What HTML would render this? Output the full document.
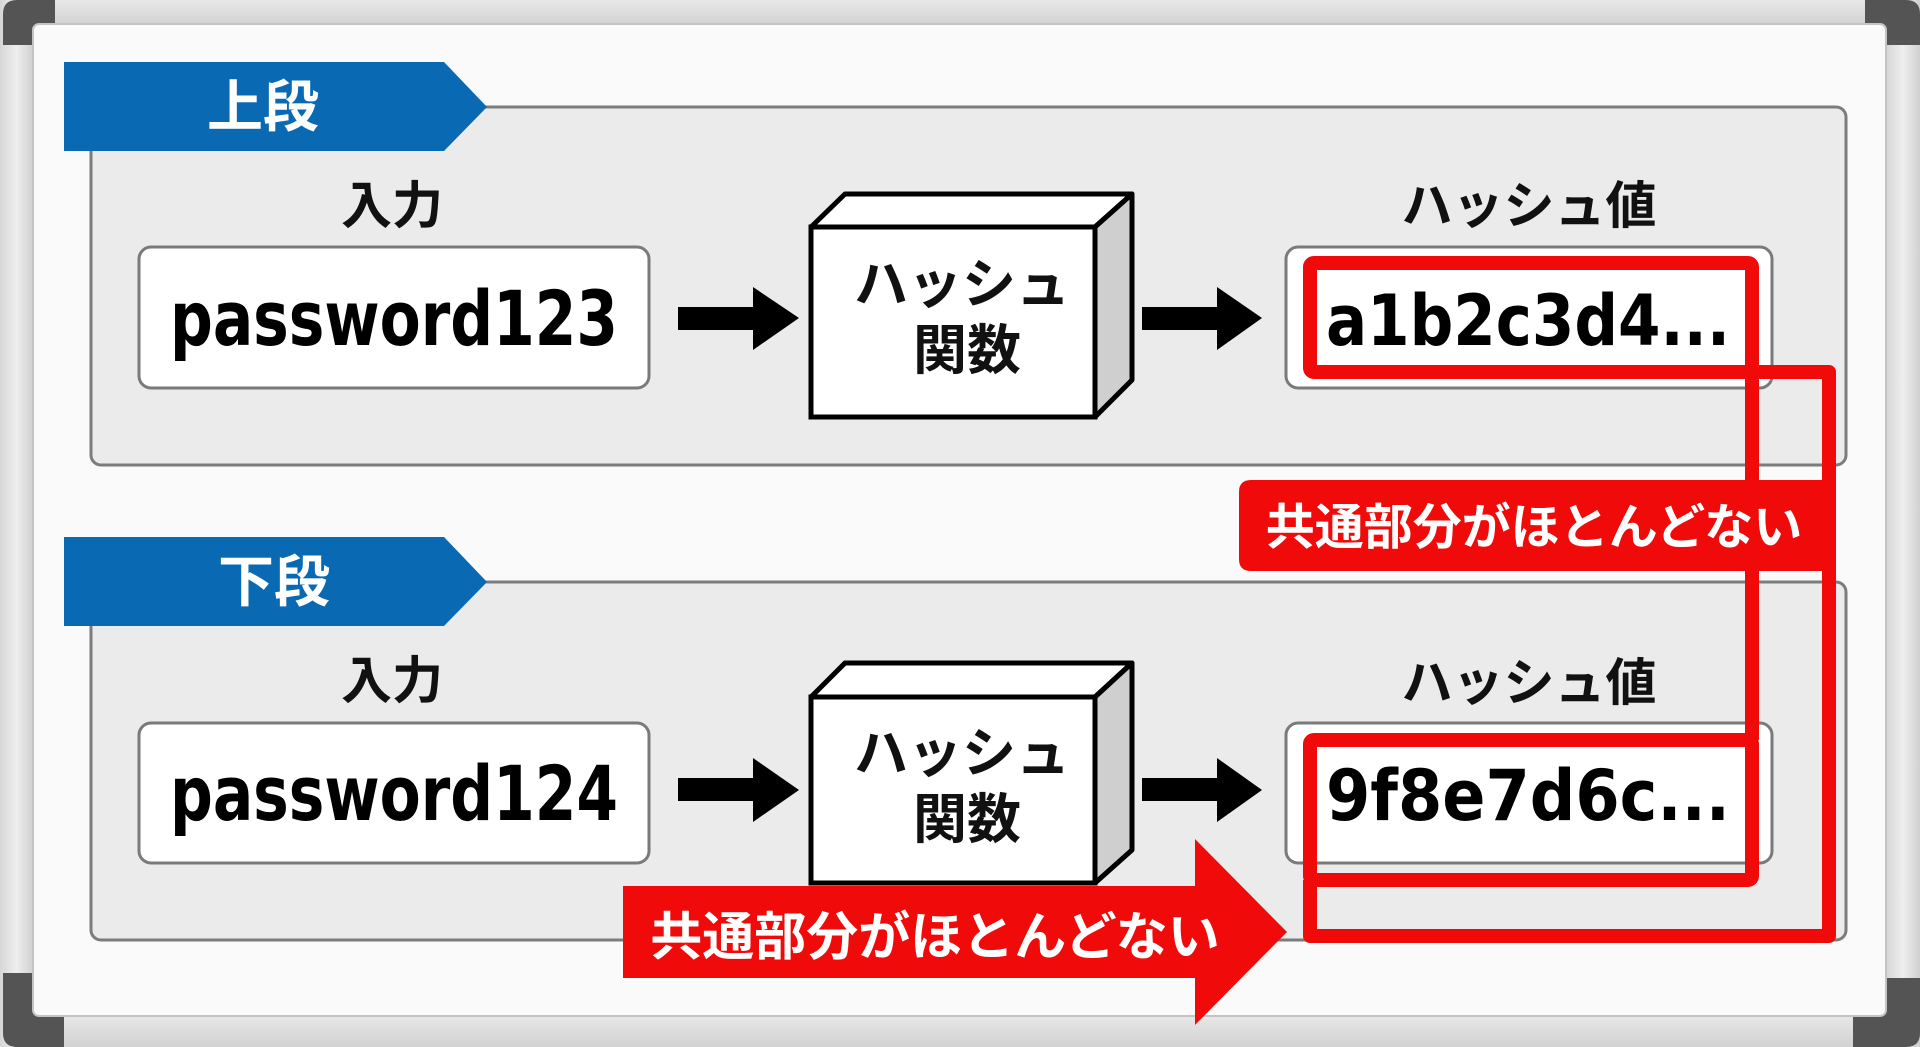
<!DOCTYPE html>
<html><head><meta charset="utf-8"><style>
html,body{margin:0;padding:0;width:1920px;height:1047px;overflow:hidden;background:#dedede;}
svg{display:block;}
.jp{font-family:"Liberation Sans","Noto Sans CJK JP",sans-serif;font-weight:700;}
.mono{font-family:"DejaVu Sans Condensed","DejaVu Sans","Liberation Sans",sans-serif;font-weight:700;}
</style></head><body>
<svg width="1920" height="1047" viewBox="0 0 1920 1047" xmlns="http://www.w3.org/2000/svg">
  <defs>
    <linearGradient id="fr" x1="0" y1="0" x2="1" y2="0">
      <stop offset="0" stop-color="#d6d6d6"/><stop offset="0.5" stop-color="#eeeeee"/><stop offset="1" stop-color="#d0d0d0"/>
    </linearGradient>
    <linearGradient id="frv" x1="0" y1="0" x2="0" y2="1">
      <stop offset="0" stop-color="#e8e8e8"/><stop offset="1" stop-color="#d2d2d2"/>
    </linearGradient>
  </defs>
  <!-- frame -->
  <rect x="0" y="0" width="1920" height="1047" fill="#dcdcdc"/>
  <rect x="0" y="0" width="1920" height="25" fill="url(#frv)"/>
  <rect x="0" y="1015" width="1920" height="32" fill="url(#frv)"/>
  <rect x="0" y="0" width="33" height="1047" fill="url(#fr)"/>
  <rect x="1886" y="0" width="34" height="1047" fill="url(#fr)"/>
  <!-- dark corners -->
  <path d="M3,45 L3,14 Q3,0 17,0 L55,0 L55,45 Z" fill="#545454"/>
  <path d="M1865,0 L1906,0 Q1920,0 1920,14 L1920,45 L1865,45 Z" fill="#545454"/>
  <path d="M3,973 L64,973 L64,1047 L17,1047 Q3,1047 3,1033 Z" fill="#545454"/>
  <path d="M1853,978 L1920,978 L1920,1033 Q1920,1047 1906,1047 L1853,1047 Z" fill="#545454"/>
  <!-- board -->
  <rect x="33" y="24" width="1853" height="992" rx="6" fill="#fafafa" stroke="#c4c4c4" stroke-width="2"/>

  <!-- panels -->
  <rect x="91" y="107" width="1755" height="358" rx="10" fill="#ebebeb" stroke="#7c7c7c" stroke-width="3"/>
  <rect x="91" y="582" width="1755" height="358" rx="10" fill="#ebebeb" stroke="#7c7c7c" stroke-width="3"/>

  <!-- tabs -->
  <polygon points="64,62 444,62 487,107 444,151 64,151" fill="#0a69b3"/>
  <text x="263" y="107" class="jp" font-size="56" fill="#ffffff" text-anchor="middle" dominant-baseline="central">上段</text>
  <polygon points="64,537 444,537 487,582 444,626 64,626" fill="#0a69b3"/>
  <text x="274" y="582" class="jp" font-size="56" fill="#ffffff" text-anchor="middle" dominant-baseline="central">下段</text>

  <!-- top row -->
  <text x="392" y="206" class="jp" font-size="51" fill="#111" text-anchor="middle" dominant-baseline="central">入力</text>
  <rect x="139" y="247" width="510" height="141" rx="12" fill="#ffffff" stroke="#7a7a7a" stroke-width="3"/>
  <text x="170" y="345" class="mono" font-size="76" fill="#000" textLength="448" lengthAdjust="spacingAndGlyphs">password123</text>

  <rect x="678" y="307" width="77" height="23" fill="#000"/>
  <polygon points="753,287 799,318 753,350" fill="#000"/>

  <!-- cube top -->
  <polygon points="811,227 845,194 1132,194 1095,227" fill="#ffffff" stroke="#000" stroke-width="5" stroke-linejoin="round"/>
  <polygon points="1095,227 1132,194 1132,380 1095,417" fill="#cfcfcf" stroke="#000" stroke-width="5" stroke-linejoin="round"/>
  <rect x="811" y="227" width="284" height="190" fill="#ffffff" stroke="#000" stroke-width="5"/>
  <text x="962" y="285" class="jp" font-size="54" fill="#111" text-anchor="middle" dominant-baseline="central">ハッシュ</text>
  <text x="967" y="351" class="jp" font-size="54" fill="#111" text-anchor="middle" dominant-baseline="central">関数</text>

  <rect x="1142" y="307" width="77" height="23" fill="#000"/>
  <polygon points="1217,287 1262,318 1217,350" fill="#000"/>

  <text x="1529" y="206" class="jp" font-size="51" fill="#111" text-anchor="middle" dominant-baseline="central">ハッシュ値</text>
  <rect x="1286" y="247" width="486" height="141" rx="12" fill="#ffffff" stroke="#7a7a7a" stroke-width="3"/>

  <!-- bottom row -->
  <text x="392" y="681" class="jp" font-size="51" fill="#111" text-anchor="middle" dominant-baseline="central">入力</text>
  <rect x="139" y="723" width="510" height="140" rx="12" fill="#ffffff" stroke="#7a7a7a" stroke-width="3"/>
  <text x="170" y="820" class="mono" font-size="76" fill="#000" textLength="448" lengthAdjust="spacingAndGlyphs">password124</text>

  <rect x="678" y="778" width="77" height="23" fill="#000"/>
  <polygon points="753,758 799,790 753,822" fill="#000"/>

  <polygon points="811,697 845,663 1132,663 1095,697" fill="#ffffff" stroke="#000" stroke-width="5" stroke-linejoin="round"/>
  <polygon points="1095,697 1132,663 1132,850 1095,883" fill="#cfcfcf" stroke="#000" stroke-width="5" stroke-linejoin="round"/>
  <rect x="811" y="697" width="284" height="186" fill="#ffffff" stroke="#000" stroke-width="5"/>
  <text x="962" y="754" class="jp" font-size="54" fill="#111" text-anchor="middle" dominant-baseline="central">ハッシュ</text>
  <text x="967" y="820" class="jp" font-size="54" fill="#111" text-anchor="middle" dominant-baseline="central">関数</text>

  <rect x="1142" y="778" width="77" height="23" fill="#000"/>
  <polygon points="1217,758 1262,790 1217,822" fill="#000"/>

  <text x="1529" y="683" class="jp" font-size="51" fill="#111" text-anchor="middle" dominant-baseline="central">ハッシュ値</text>
  <rect x="1286" y="723" width="486" height="140" rx="12" fill="#ffffff" stroke="#7a7a7a" stroke-width="3"/>

  <!-- red highlight boxes & connectors -->
  <rect x="1310" y="263" width="442" height="109" rx="4" fill="none" stroke="#f00a0a" stroke-width="14"/>
  <rect x="1310" y="740" width="442" height="140" rx="4" fill="none" stroke="#f00a0a" stroke-width="14"/>
  <path d="M1752,372 L1829,372 L1829,936 L1310,936 L1310,880" fill="none" stroke="#f00a0a" stroke-width="14" stroke-linejoin="round"/>
  <path d="M1752,372 L1752,740" fill="none" stroke="#f00a0a" stroke-width="14"/>

  <!-- hash texts -->
  <text x="1326" y="345" class="mono" font-size="70" fill="#000" textLength="404" lengthAdjust="spacingAndGlyphs">a1b2c3d4...</text>
  <text x="1326" y="820" class="mono" font-size="70" fill="#000" textLength="404" lengthAdjust="spacingAndGlyphs">9f8e7d6c...</text>

  <!-- red label -->
  <path d="M1251,480 L1836,480 L1836,571 L1251,571 Q1239,571 1239,559 L1239,492 Q1239,480 1251,480 Z" fill="#f00a0a"/>
  <text x="1534" y="528" class="jp" font-size="49" fill="#ffffff" text-anchor="middle" dominant-baseline="central">共通部分がほとんどない</text>

  <!-- big red arrow -->
  <polygon points="623,886 1195,886 1195,839 1287,932 1195,1025 1195,978 623,978" fill="#f00a0a"/>
  <text x="935" y="938" class="jp" font-size="52" fill="#ffffff" text-anchor="middle" dominant-baseline="central">共通部分がほとんどない</text>
</svg>
</body></html>
